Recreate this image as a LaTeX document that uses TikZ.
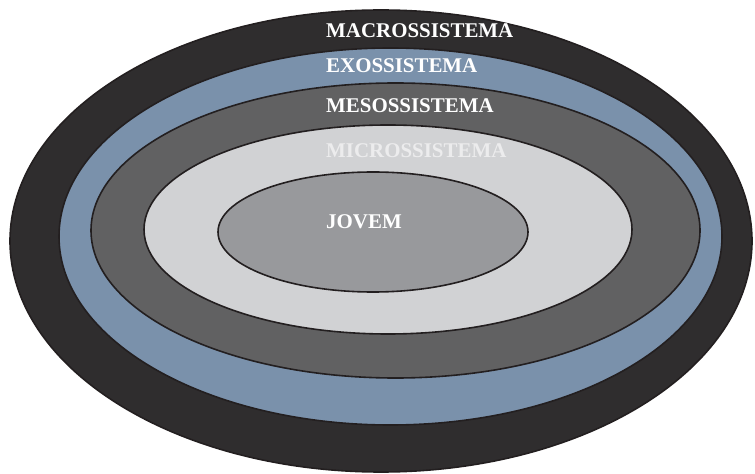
\documentclass[tikz,border=0pt]{standalone}
\usepackage{fontspec}
\setmainfont{Liberation Serif}
\definecolor{macrocol}{HTML}{2F2D2E}
\definecolor{exocol}{HTML}{7A91AB}
\definecolor{mesocol}{HTML}{616162}
\definecolor{microcol}{HTML}{D1D2D4}
\definecolor{jovemcol}{HTML}{98999C}
\definecolor{edgecol}{HTML}{231F20}
\definecolor{microtext}{HTML}{ECECED}

\begin{document}
\begin{tikzpicture}[x=1bp, y=-1bp]
\tikzset{
  ring/.style={draw=edgecol, line width=1.6bp},
  lbl/.style={anchor=base west, inner sep=0pt, font=\bfseries\fontsize{21}{21}\selectfont, text=white}
}
\useasboundingbox (0,0) rectangle (755,474);
\filldraw[ring, fill=macrocol] (381,241) ellipse (371 and 231);
\filldraw[ring, fill=exocol] (390.5,236.5) ellipse (331.5 and 188.5);
\filldraw[ring, fill=mesocol] (395.5,230.5) ellipse (304.5 and 147.5);
\filldraw[ring, fill=microcol] (388,229.5) ellipse (244 and 104.5);
\filldraw[ring, fill=jovemcol] (373,232) ellipse (155 and 60);
\node[lbl] (macro) at (326,38) {MACROSSISTEMA};
\node[lbl] (exo) at (326,73) {EXOSSISTEMA};
\node[lbl] (meso) at (326,113) {MESOSSISTEMA};
\node[lbl, text=microtext] (micro) at (326,158) {MICROSSISTEMA};
\node[lbl] (jovem) at (326,229) {JOVEM};
\end{tikzpicture}
\end{document}
